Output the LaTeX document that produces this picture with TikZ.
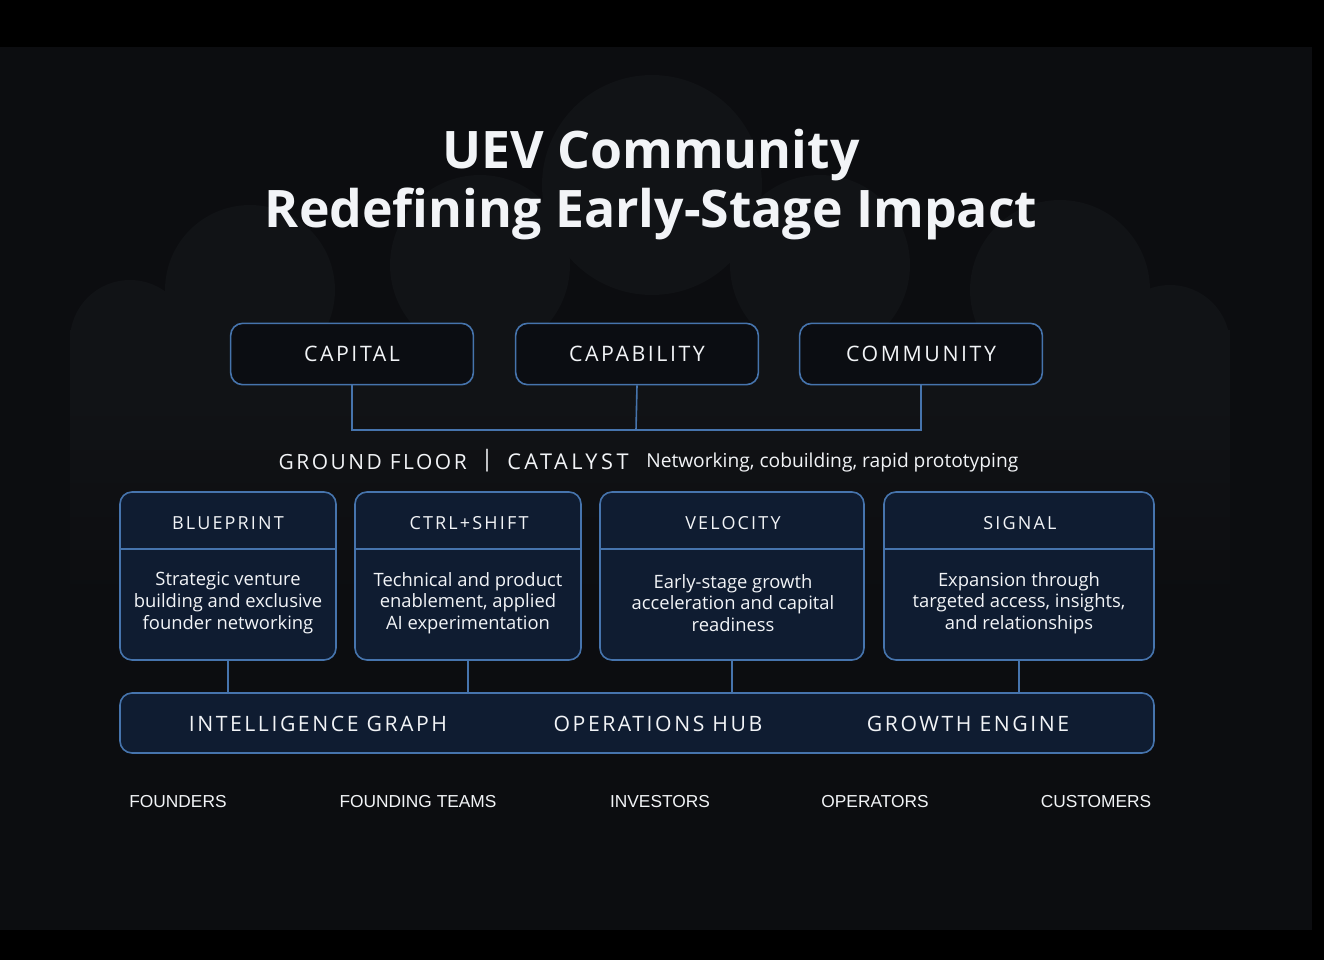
\documentclass[tikz,border=0pt]{standalone}
\usepackage{fontspec}
\setmainfont{Open Sans}
\newfontfamily\spacedfont[LetterSpace=12]{Open Sans}
\newfontfamily\widefont[LetterSpace=16]{Open Sans}
\newfontfamily\arialfont{Liberation Sans}
\definecolor{bgdark}{HTML}{0C0D10}
\definecolor{cloudgray}{HTML}{111316}
\definecolor{edgeblue}{HTML}{4674AD}
\definecolor{cardfill}{HTML}{0F1C31}
\definecolor{topfill}{HTML}{0B0D12}
\definecolor{softwhite}{HTML}{F2F4F7}

\begin{document}
\begin{tikzpicture}[
x=0.75pt, y=-0.75pt,
every node/.style={text=softwhite, inner sep=0pt},
pillar/.style={
draw=edgeblue,
line width=1.2pt,
rounded corners=9pt,
fill=topfill,
minimum width=182pt,
minimum height=46pt,
font=\spacedfont\fontsize{16}{18}\selectfont
},
card/.style={
draw=edgeblue,
line width=1.2pt,
rounded corners=9pt,
fill=cardfill
},
cardtitle/.style={font=\spacedfont\fontsize{13.5}{15}\selectfont},
cardtext/.style={align=center, font=\fontsize{13.8}{16.2}\selectfont},
bartext/.style={font=\spacedfont\fontsize{15.9}{18}\selectfont},
audience/.style={font=\arialfont\fontsize{13}{15}\selectfont},
link/.style={draw=edgeblue, line width=1.2pt}
]
% backdrop and soft cloud
\fill[black] (0,0) rectangle (1324,960);
\fill[bgdark] (0,47) rectangle (1312,930);
\begin{scope}
\clip (0,47) rectangle (1312,930);
\fill[cloudgray] (652,185) circle (110);
\fill[cloudgray] (480,265) circle (90);
\fill[cloudgray] (820,265) circle (90);
\fill[cloudgray] (250,290) circle (85);
\fill[cloudgray] (1060,290) circle (90);
\fill[cloudgray] (130,340) circle (60);
\fill[cloudgray] (1170,345) circle (60);
\fill[cloudgray] (70,330) rectangle (1230,400);
\shade[top color=cloudgray, bottom color=bgdark] (70,399) rectangle (1230,600);
\end{scope}

% title
\node[font=\bfseries\fontsize{38.8}{46}\selectfont] (title1) at (651,155) {UEV Community};
\node[font=\bfseries\fontsize{38.8}{46}\selectfont] (title2) at (651,214) {Redefining Early-Stage Impact};

% three pillars
\node[pillar] (capital) at (352,354) {CAPITAL};
\node[pillar] (capability) at (637,354) {CAPABILITY};
\node[pillar] (community) at (921,354) {COMMUNITY};
\coordinate (hub) at (636,430);
\draw[link] (capital.south) |- (hub) -| (community.south);
\draw[link] (capability.south) -- (hub);

% ground floor line
\node[font=\spacedfont\fontsize{15.7}{18}\selectfont, anchor=east] (ground) at (467,462) {GROUND FLOOR};
\node[font=\fontsize{17}{18}\selectfont] (divider) at (487,461) {|};
\node[font=\widefont\fontsize{16.3}{18}\selectfont, anchor=west] (catalyst) at (507,462) {CATALYST};
\node[font=\fontsize{14.4}{16}\selectfont, anchor=west] (catalystnote) at (646,463) {Networking, cobuilding, rapid prototyping};

% programme cards
\node[card, minimum width=162pt, minimum height=126pt] (blueprint) at (228,576) {};
\node[card, minimum width=169.5pt, minimum height=126pt] (ctrlshift) at (468,576) {};
\node[card, minimum width=198pt, minimum height=126pt] (velocity) at (732,576) {};
\node[card, minimum width=202.5pt, minimum height=126pt] (signal) at (1019,576) {};
\draw[link] ([yshift=-43.5pt]blueprint.north west) -- ([yshift=-43.5pt]blueprint.north east);
\draw[link] ([yshift=-43.5pt]ctrlshift.north west) -- ([yshift=-43.5pt]ctrlshift.north east);
\draw[link] ([yshift=-43.5pt]velocity.north west) -- ([yshift=-43.5pt]velocity.north east);
\draw[link] ([yshift=-43.5pt]signal.north west) -- ([yshift=-43.5pt]signal.north east);
\node[cardtitle] (blueprinthead) at (228,523) {BLUEPRINT};
\node[cardtitle] (ctrlshifthead) at (469,523) {CTRL+SHIFT};
\node[cardtitle] (velocityhead) at (733,523) {VELOCITY};
\node[cardtitle] (signalhead) at (1020,523) {SIGNAL};
\node[cardtext] (blueprintbody) at (228,603) {Strategic venture\\building and exclusive\\founder networking};
\node[cardtext] (ctrlshiftbody) at (468,603) {Technical and product\\enablement, applied\\AI experimentation};
\node[cardtext] (velocitybody) at (733,603) {Early-stage growth\\acceleration and capital\\readiness};
\node[cardtext] (signalbody) at (1019,603) {Expansion through\\targeted access, insights,\\and relationships};

% platform bar
\node[card, minimum width=775.5pt, minimum height=45pt] (platform) at (637,723) {};
\draw[link] (blueprint.south) -- (blueprint.south |- platform.north);
\draw[link] (ctrlshift.south) -- (ctrlshift.south |- platform.north);
\draw[link] (velocity.south) -- (velocity.south |- platform.north);
\draw[link] (signal.south) -- (signal.south |- platform.north);
\node[bartext] (intelgraph) at (318,724) {INTELLIGENCE GRAPH};
\node[bartext] (opshub) at (658,724) {OPERATIONS HUB};
\node[bartext] (growth) at (968,724) {GROWTH ENGINE};

% audiences
\node[audience] (founders) at (178,802) {FOUNDERS};
\node[audience] (teams) at (418,802) {FOUNDING TEAMS};
\node[audience] (investors) at (660,802) {INVESTORS};
\node[audience] (operators) at (875,802) {OPERATORS};
\node[audience] (customers) at (1096,802) {CUSTOMERS};

\end{tikzpicture}
\end{document}
